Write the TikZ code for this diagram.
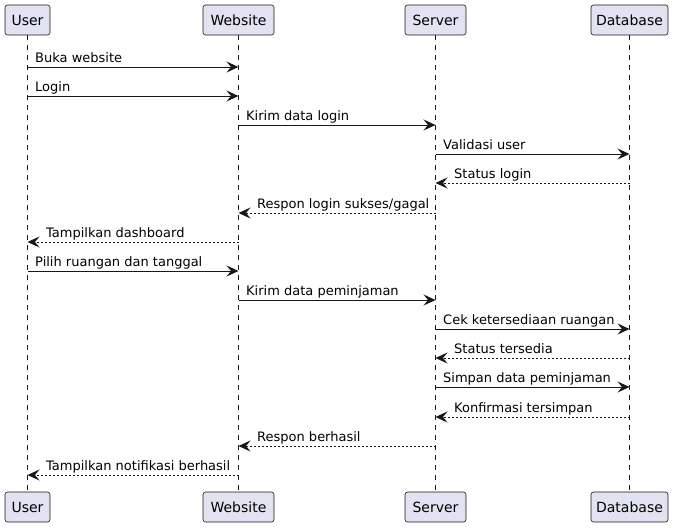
\documentclass[tikz,border=0pt]{standalone}
\usepackage{fontspec}
\setmainfont{DejaVu Sans}
\usetikzlibrary{arrows.meta,calc}
\definecolor{pfill}{HTML}{E2E2F0}
\definecolor{pline}{HTML}{181818}
\begin{document}
\begin{tikzpicture}[x=1pt,y=-1pt,
  part/.style={draw=pline, fill=pfill, line width=0.6pt, rounded corners=2.5pt,
    minimum height=30pt, inner sep=0pt, font=\fontsize{14}{16}\selectfont, text=black},
  life/.style={draw=pline, line width=0.5pt, dash pattern=on 5pt off 5pt},
  msg/.style={draw=pline, line width=1pt, -{Stealth[length=12pt,width=11pt,inset=4.5pt]}},
  rmsg/.style={msg, dash pattern=on 2pt off 2pt},
  lbl/.style={font=\fontsize{13}{15}\selectfont, inner sep=0pt, anchor=base west, text=black}]
\useasboundingbox (0,0) rectangle (676,527);
% participants
\node[part, minimum width=45pt] (uT) at (27.5,20) {User};
\node[part, minimum width=71pt] (wT) at (238.5,20) {Website};
\node[part, minimum width=61pt] (sT) at (435.5,20) {Server};
\node[part, minimum width=77pt] (dT) at (629.5,20) {Database};
\node[part, minimum width=45pt] (uB) at (27.5,507) {User};
\node[part, minimum width=71pt] (wB) at (238.5,507) {Website};
\node[part, minimum width=61pt] (sB) at (435.5,507) {Server};
\node[part, minimum width=77pt] (dB) at (629.5,507) {Database};
% lifelines
\draw[life] (uT.south) -- (uB.north);
\draw[life] (wT.south) -- (wB.north);
\draw[life] (sT.south) -- (sB.north);
\draw[life] (dT.south) -- (dB.north);
% message rows
\foreach \i/\yy in {1/67,2/96,3/125,4/154,5/183,6/213,7/242,8/271,9/300,10/329,11/358,12/387,13/417,14/446,15/475}
  \coordinate (m\i) at (0,\yy);
% messages
\draw[msg] (uT |- m1) -- (wT |- m1);
\node[lbl] at ($(uT |- m1)+(7.5,-5)$) {Buka website};
\draw[msg] (uT |- m2) -- (wT |- m2);
\node[lbl] at ($(uT |- m2)+(7.5,-5)$) {Login};
\draw[msg] (wT |- m3) -- (sT |- m3);
\node[lbl] at ($(wT |- m3)+(7.5,-5)$) {Kirim data login};
\draw[msg] (sT |- m4) -- (dT |- m4);
\node[lbl] at ($(sT |- m4)+(7.5,-5)$) {Validasi user};
\draw[rmsg] (dT |- m5) -- (sT |- m5);
\node[lbl] at ($(sT |- m5)+(18.5,-5)$) {Status login};
\draw[rmsg] (sT |- m6) -- (wT |- m6);
\node[lbl] at ($(wT |- m6)+(18.5,-5)$) {Respon login sukses/gagal};
\draw[rmsg] (wT |- m7) -- (uT |- m7);
\node[lbl] at ($(uT |- m7)+(18.5,-5)$) {Tampilkan dashboard};
\draw[msg] (uT |- m8) -- (wT |- m8);
\node[lbl] at ($(uT |- m8)+(7.5,-5)$) {Pilih ruangan dan tanggal};
\draw[msg] (wT |- m9) -- (sT |- m9);
\node[lbl] at ($(wT |- m9)+(7.5,-5)$) {Kirim data peminjaman};
\draw[msg] (sT |- m10) -- (dT |- m10);
\node[lbl] at ($(sT |- m10)+(7.5,-5)$) {Cek ketersediaan ruangan};
\draw[rmsg] (dT |- m11) -- (sT |- m11);
\node[lbl] at ($(sT |- m11)+(18.5,-5)$) {Status tersedia};
\draw[msg] (sT |- m12) -- (dT |- m12);
\node[lbl] at ($(sT |- m12)+(7.5,-5)$) {Simpan data peminjaman};
\draw[rmsg] (dT |- m13) -- (sT |- m13);
\node[lbl] at ($(sT |- m13)+(18.5,-5)$) {Konfirmasi tersimpan};
\draw[rmsg] (sT |- m14) -- (wT |- m14);
\node[lbl] at ($(wT |- m14)+(18.5,-5)$) {Respon berhasil};
\draw[rmsg] (wT |- m15) -- (uT |- m15);
\node[lbl] at ($(uT |- m15)+(18.5,-5)$) {Tampilkan notifikasi berhasil};
\end{tikzpicture}
\end{document}
